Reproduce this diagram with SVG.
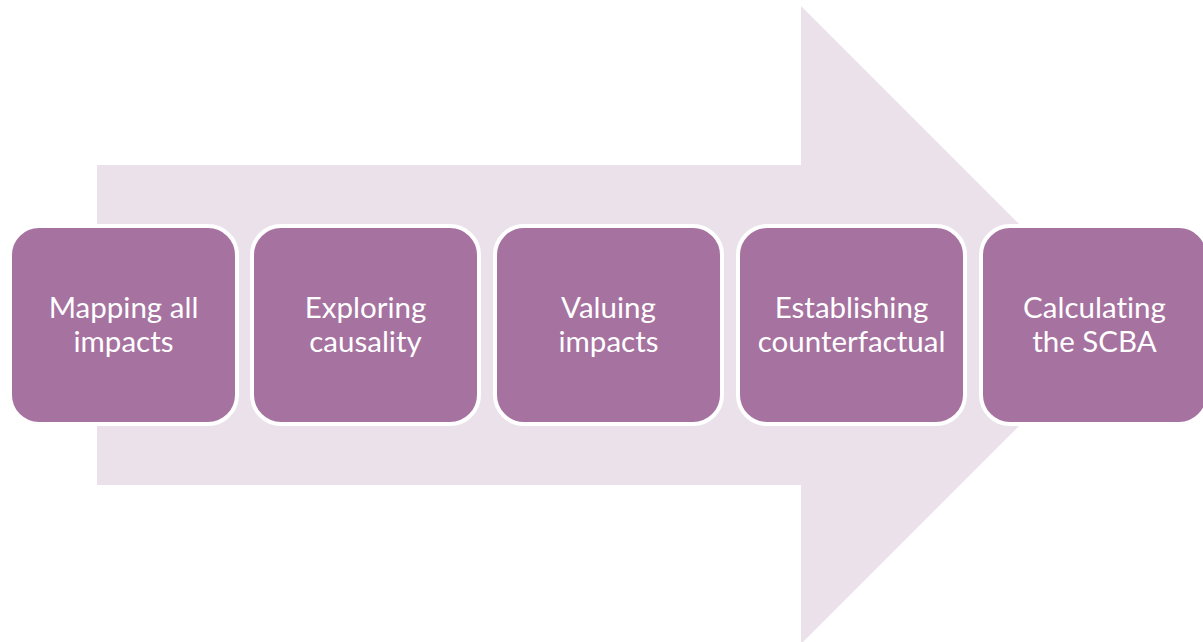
<svg xmlns="http://www.w3.org/2000/svg" width="1203" height="642" viewBox="0 0 1203 642">
  <style>
    .step rect { fill: #A6729F; stroke: #FFFFFF; stroke-width: 4; }
    .step text { fill: #FFFFFF; font-family: Lato, "Open Sans", "Liberation Sans", sans-serif; font-size: 29.5px; text-anchor: middle; font-variant-ligatures: none; }
  </style>
  <rect width="1203" height="642" fill="#FFFFFF"/>
  <!-- background process arrow -->
  <g id="arrow">
    <polygon points="97,165 801,165 801,6 1120,325 801,644 801,485 97,485" fill="#EAE1EB"/>
  </g>
  <g id="connectors"></g>
  <g id="step1" class="step">
    <rect x="10" y="226" width="227" height="198" rx="29"/>
    <text x="123.5" y="318">Mapping all</text>
    <text x="123.5" y="352">impacts</text>
  </g>
  <g id="step2" class="step">
    <rect x="252" y="226" width="227" height="198" rx="29"/>
    <text x="365.5" y="318">Exploring</text>
    <text x="365.5" y="352">causality</text>
  </g>
  <g id="step3" class="step">
    <rect x="495" y="226" width="227" height="198" rx="29"/>
    <text x="608.5" y="318">Valuing</text>
    <text x="608.5" y="352">impacts</text>
  </g>
  <g id="step4" class="step">
    <rect x="738" y="226" width="227" height="198" rx="29"/>
    <text x="851.5" y="318">Establishing</text>
    <text x="851.5" y="352">counterfactual</text>
  </g>
  <g id="step5" class="step">
    <rect x="981" y="226" width="227" height="198" rx="29"/>
    <text x="1094.5" y="318">Calculating</text>
    <text x="1094.5" y="352">the SCBA</text>
  </g>
</svg>
